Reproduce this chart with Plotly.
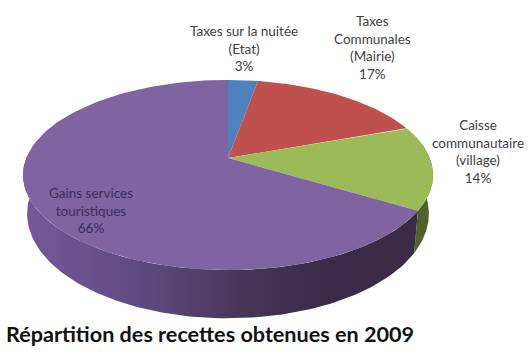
import numpy as np
import plotly.graph_objects as go

labels = ["Taxes sur la nuitée<br>(Etat)", "Taxes<br>Communales<br>(Mairie)", "Caisse<br>communautaire<br>(village)", "Gains services<br>touristiques"]
values = [2.8, 16.6, 14.3, 66.3]
colors = ["#4f81bd", "#c0504d", "#9bbb59", "#8064a2"]
label_pos = [(244, 48), (372, 47), (478, 151), (91, 210)]
label_colors = ["#404040", "#404040", "#404040", "#3b2a5c"]
title = "Répartition des recettes obtenues en 2009"

CX, CY, A, B, K = 228, 158, 201.7, 92, 0.179
BOTTOM_XS, BOTTOM_YS, BOTTOM_DY = 0.98, 1.10, 37


def rim(t0, t1, xs=1.0, ys=1.0, dy=0.0, n=120):
    t = np.radians(np.linspace(t0, t1, n))
    u, v = np.sin(t), np.cos(t)
    d = 1 + K * v
    return CX + xs * A * u / d, CY + dy - ys * B * v / d


fractions = np.array(values) / sum(values) * 360
edges = np.concatenate([[0], np.cumsum(fractions)])

fig = go.Figure()


def wall(t0, t1, **style):
    x1, y1 = rim(t0, t1)
    x2, y2 = rim(t1, t0, BOTTOM_XS, BOTTOM_YS, BOTTOM_DY)
    fig.add_trace(go.Scatter(x=np.r_[x1, x2], y=np.r_[y1, y2], mode="lines", fill="toself",
                             line=dict(width=0), hoverinfo="skip", **style))


# side walls
wall(edges[2], edges[3], fillcolor="#4f6228")
wall(edges[3], 272, fillgradient=dict(type="horizontal", colorscale=[
    [0, "#74599a"], [0.3, "#5f4a80"], [0.55, "#463758"], [0.75, "#3a2c48"], [1, "#3a2b47"]]))

# top faces
for i, c in enumerate(colors):
    x, y = rim(edges[i], edges[i + 1])
    fig.add_trace(go.Scatter(x=np.r_[CX, x, CX], y=np.r_[CY, y, CY], mode="lines", fill="toself",
                             fillcolor=c, line=dict(width=0), name=labels[i], hoverinfo="name"))

annotations = [dict(x=p[0], y=p[1], text=f"{l}<br>{v:.0f}%", showarrow=False, xanchor="center", yanchor="middle",
                    align="center", font=dict(family="Lato", size=13.5, color=tc))
               for l, v, p, tc in zip(labels, values, label_pos, label_colors)]
annotations.append(dict(x=210, y=334, text=title, showarrow=False, xanchor="center", yanchor="middle",
                        font=dict(family="Lato", size=21.6, color="#111111", weight="bold")))

fig.update_layout(width=532, height=359, margin=dict(l=0, r=0, t=0, b=0), showlegend=False,
                  paper_bgcolor="white", plot_bgcolor="white", annotations=annotations,
                  xaxis=dict(range=[0, 532], visible=False, fixedrange=True),
                  yaxis=dict(range=[359, 0], visible=False, fixedrange=True))
fig.write_html("out.html", config=dict(displayModeBar=False),
               post_script="document.body.style.margin='0';document.body.style.overflow='hidden';")
